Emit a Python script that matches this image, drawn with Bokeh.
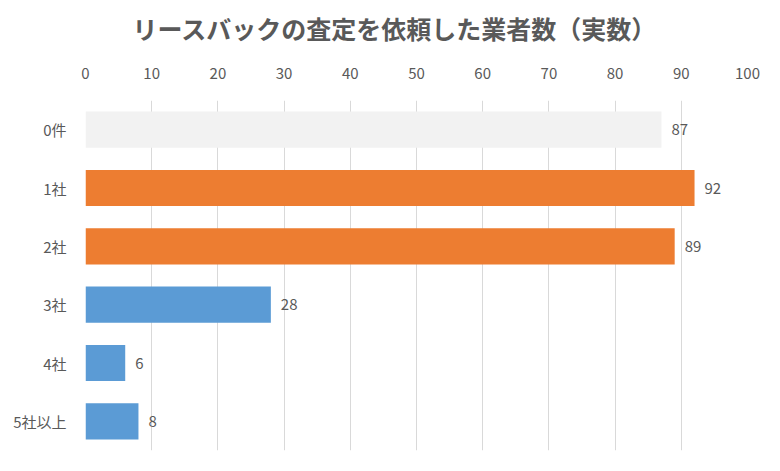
from bokeh.plotting import figure
from bokeh.models import ColumnDataSource, FactorRange, FixedTicker
from bokeh.embed import file_html
from bokeh.resources import INLINE
from bokeh.core.properties import value

categories = ["0件", "1社", "2社", "3社", "4社", "5社以上"]
counts = [87, 92, 89, 28, 6, 8]
colors = ["#f2f2f2", "#ed7d31", "#ed7d31", "#5b9bd5", "#5b9bd5", "#5b9bd5"]
x_ticks = [0, 10, 20, 30, 40, 50, 60, 70, 80, 90, 100]
title_text = "リースバックの査定を依頼した業者数（実数）"

FONT = "Noto Sans CJK JP"
TXT = "#595959"

src = ColumnDataSource(dict(cat=categories, val=counts, color=colors,
                            label=[str(v) for v in counts]))

p = figure(width=764, height=455, output_backend="svg", toolbar_location=None,
           y_range=FactorRange(*reversed(categories)), x_range=(0, 100),
           x_axis_location="above",
           min_border_left=85, min_border_right=17, min_border_top=100, min_border_bottom=5)

p.hbar(y="cat", right="val", left=0, height=0.62, color="color", source=src, line_color=None)
p.text(x="val", y="cat", text="label", source=src, x_offset=10,
       text_align="left", text_baseline="middle", text_color=TXT,
       text_font=value(FONT), text_font_size="15px")

p.title.text = title_text
p.title.align = "left"
p.title.offset = 47
p.title.text_font = FONT
p.title.text_font_size = "25px"
p.title.text_font_style = "bold"
p.title.text_color = TXT

xa = p.xaxis[0]
xa.ticker = FixedTicker(ticks=x_ticks)
xa.axis_line_color = None
xa.major_tick_line_color = None
xa.minor_tick_line_color = None
xa.major_label_text_font = FONT
xa.major_label_text_font_size = "15px"
xa.major_label_text_color = TXT
xa.major_label_standoff = 16
xa.axis_label = " "
xa.axis_label_text_font_size = "10px"
xa.axis_label_standoff = 0

ya = p.yaxis[0]
ya.axis_line_color = None
ya.major_tick_line_color = None
ya.minor_tick_line_color = None
ya.major_label_text_font = FONT
ya.major_label_text_font_size = "15px"
ya.major_label_text_color = TXT
ya.major_label_standoff = 13

p.xgrid.grid_line_color = "#d9d9d9"
p.xgrid.ticker = FixedTicker(ticks=x_ticks)
p.ygrid.grid_line_color = None
p.outline_line_color = None
p.background_fill_color = "white"
p.border_fill_color = "white"

open("out.html", "w").write(file_html(p, INLINE))
